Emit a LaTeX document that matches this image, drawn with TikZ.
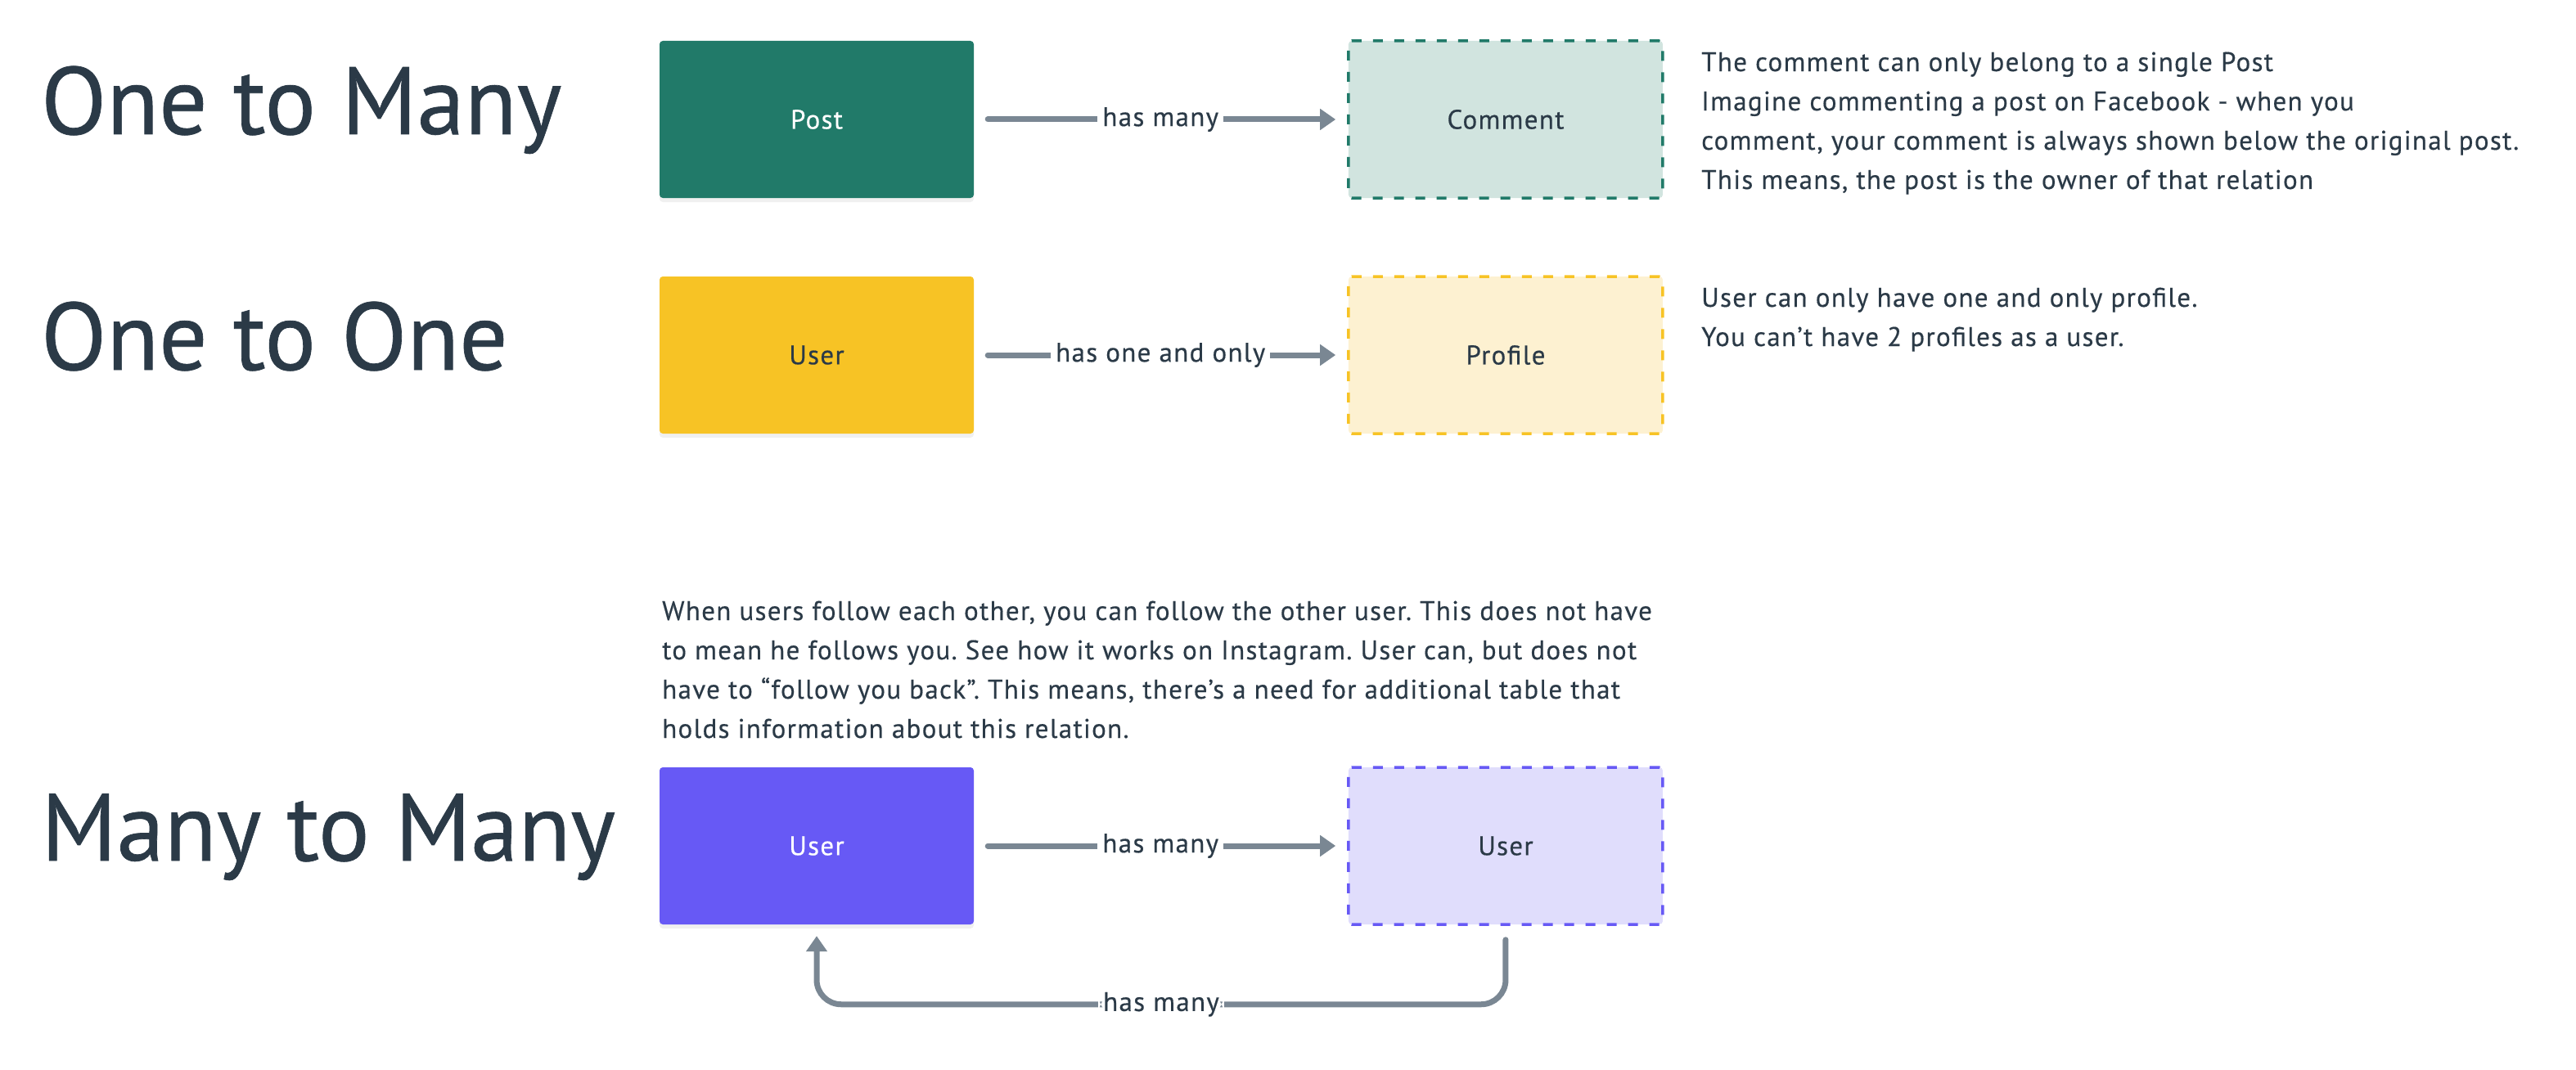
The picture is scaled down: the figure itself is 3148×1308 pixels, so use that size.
\documentclass[tikz,border=0pt]{standalone}
\usepackage{fontspec}
\setmainfont{PT Sans}
\newfontfamily\notefont[LetterSpace = 4, FakeBold = 0.4]{PT Sans}
\newfontfamily\titlefont[FakeBold = 0.6]{PT Sans}
\frenchspacing
\usetikzlibrary{positioning, arrows.meta, shadows}
\definecolor{ink}{HTML}{2B3A47}
\definecolor{linkgray}{HTML}{7A8793}
\definecolor{postgreen}{HTML}{217A69}
\definecolor{commentfill}{HTML}{D1E4DF}
\definecolor{useryellow}{HTML}{F7C325}
\definecolor{profilefill}{HTML}{FDF1D1}
\definecolor{userpurple}{HTML}{6759F5}
\definecolor{purplefill}{HTML}{E0DDFC}
\tikzstyle{entity} = [rectangle, minimum width = 384pt, minimum height = 192pt, 
	rounded corners = 4pt, inner sep = 0pt, text = ink, font = \notefont\fontsize{33}{40}\selectfont]
\tikzstyle{owner} = [entity, drop shadow = {opacity = 0.12, shadow xshift = 0pt, shadow yshift = -5pt}]
\tikzstyle{owned} = [entity, draw, line width = 3.5pt, dash pattern = on 12pt off 14pt]
\tikzstyle{arrow} = [line width = 7pt, draw = linkgray, line cap = round, 
	-{Triangle[length = 19pt, width = 25pt]}, shorten < = 17pt, shorten > = 14pt]
\tikzstyle{rel} = [fill = white, text = ink, inner xsep = 6pt, inner ysep = 2pt, 
	font = \notefont\fontsize{33}{40}\selectfont]
\tikzstyle{title} = [anchor = base west, inner sep = 0pt, text = ink, 
	font = \titlefont\fontsize{117}{120}\selectfont]
\tikzstyle{note} = [anchor = base west, inner sep = 0pt, align = left, text = ink, 
	font = \notefont\fontsize{33}{48}\selectfont]

\begin{document}
\begin{tikzpicture}[x = 1pt, y = -1pt]
\useasboundingbox (0,0) rectangle (3148,1308);

\node (T1) [title] at (50,164) {One to Many};
\node (T2) [title] at (50,452) {One to One};
\node (T3) [title] at (50,1052) {Many to Many};

\node (post) [owner, fill = postgreen, text = white] at (998,146) {Post};
\node (comment) [owned, fill = commentfill, draw = postgreen, right = 456pt of post] {Comment};

\node (user) [owner, fill = useryellow] at (998,434) {User};
\node (profile) [owned, fill = profilefill, draw = useryellow, right = 456pt of user] {Profile};

\node (follower) [owner, fill = userpurple, text = white] at (998,1034) {User};
\node (followed) [owned, fill = purplefill, draw = userpurple, right = 456pt of follower] {User};

\draw [arrow] (post) -- node [rel] {has many} (comment);
\draw [arrow] (user) -- node [rel] {has one and only} (profile);
\draw [arrow] (follower) -- node [rel] {has many} (followed);
\draw [arrow, rounded corners = 30pt] (followed.south) -- ++(0,96) 
	-| node [rel, pos = 0.25] {has many} (follower.south);

% base of a multi-line note is its last line
\node (N1) [note] at (2079,231) {The comment can only belong to a single Post\\
	Imagine commenting a post on Facebook - when you\\
	comment, your comment is always shown below the original post.\\
	This means, the post is the owner of that relation};
\node (N2) [note] at (2079,423) {User can only have one and only profile.\\
	You can’t have 2 profiles as a user.};
\node (N3) [note] at (809,902) {When users follow each other, you can follow the other user. This does not have\\
	to mean he follows you. See how it works on Instagram. User can, but does not\\
	have to “follow you back”. This means, there’s a need for additional table that\\
	holds information about this relation.};
\end{tikzpicture}
\end{document}
